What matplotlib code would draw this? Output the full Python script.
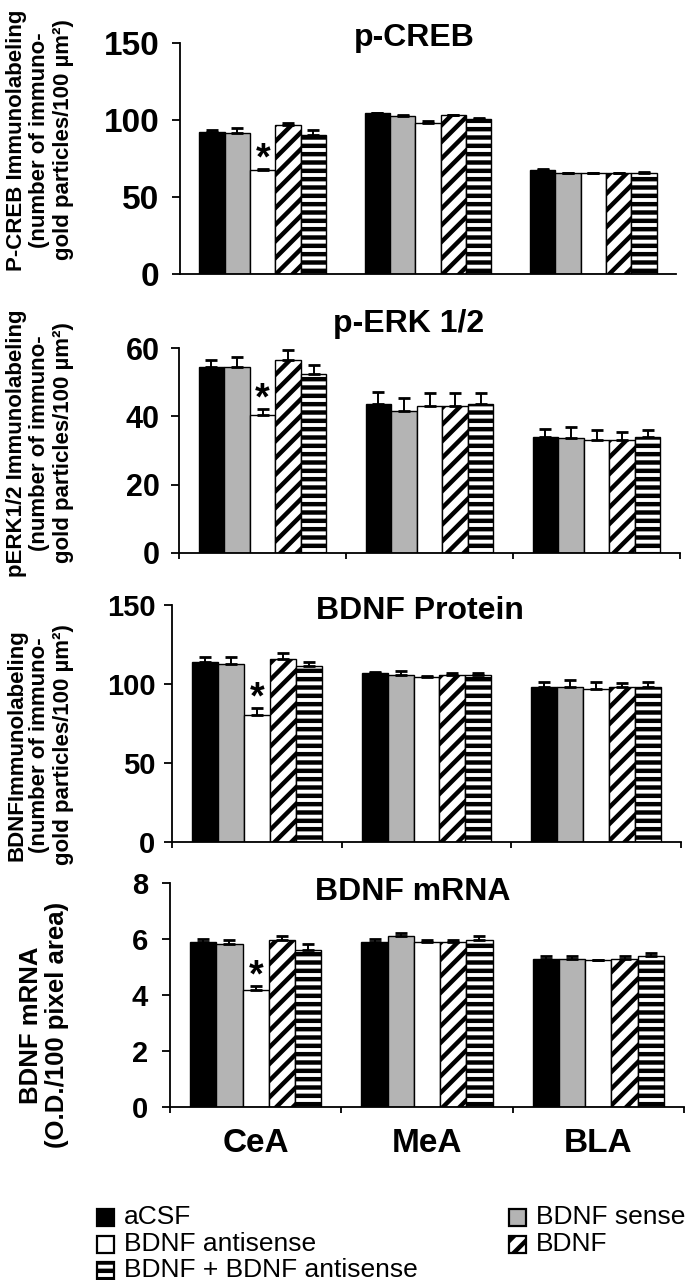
import matplotlib
matplotlib.use("Agg")
import matplotlib.pyplot as plt
from matplotlib.patches import Rectangle
import numpy as np

# ---------------- data ----------------
regions = ["CeA", "MeA", "BLA"]
groups = ["aCSF", "BDNF sense", "BDNF antisense", "BDNF", "BDNF + BDNF antisense"]

# rows = regions, cols = groups
pcreb_mean = [[92.4, 91.8, 67.5, 96.5, 90.3],
              [104.3, 102.6, 98.0, 103.0, 100.4],
              [67.5, 65.8, 65.8, 65.8, 65.4]]
pcreb_err = [[1.0, 3.2, 0.5, 1.3, 3.2],
             [0.5, 0.5, 1.6, 0.3, 0.7],
             [0.7, 0.0, 0.0, 0.0, 0.9]]

perk_mean = [[54.5, 54.5, 40.3, 56.6, 52.3],
             [43.5, 41.6, 43.0, 43.0, 43.5],
             [34.0, 33.8, 33.1, 33.1, 34.0]]
perk_err = [[2.1, 2.9, 1.8, 2.7, 2.7],
            [3.5, 3.9, 3.9, 3.9, 3.4],
            [2.2, 3.0, 2.9, 2.4, 2.0]]

bdnfp_mean = [[114.1, 112.6, 80.3, 115.6, 111.3],
              [106.7, 105.4, 104.6, 105.4, 105.4],
              [98.2, 98.2, 97.0, 97.8, 98.2]]
bdnfp_err = [[2.7, 4.2, 4.2, 4.2, 2.6],
             [0.6, 3.0, 0.6, 1.6, 1.3],
             [3.0, 4.3, 4.2, 3.0, 3.0]]

mrna_mean = [[5.89, 5.83, 4.19, 5.98, 5.62],
             [5.89, 6.10, 5.88, 5.88, 5.98],
             [5.29, 5.29, 5.24, 5.29, 5.38]]
mrna_err = [[0.11, 0.15, 0.12, 0.12, 0.21],
            [0.11, 0.11, 0.10, 0.10, 0.12],
            [0.11, 0.11, 0.00, 0.11, 0.12]]

titles = ["p-CREB", "p-ERK 1/2", "BDNF Protein", "BDNF mRNA"]
ylabels = ["P-CREB Immunolabeling\n(number of immuno-\ngold particles/100 µm²)",
           "pERK1/2 Immunolabeling\n(number of immuno-\ngold particles/100 µm²)",
           "BDNFImmunolabeling\n(number of immuno-\ngold particles/100 µm²)",
           "BDNF mRNA\n(O.D./100 pixel area)"]
yticks = [[0, 50, 100, 150], [0, 20, 40, 60], [0, 50, 100, 150], [0, 2, 4, 6, 8]]
sig_group = 2   # asterisk over BDNF antisense in CeA
sig_region = 0

# ---------------- style ----------------
W, H = 685, 1280
DPI = 100
FONT = ["Liberation Sans", "DejaVu Sans"]
plt.rcParams["font.family"] = FONT
plt.rcParams["hatch.linewidth"] = 3.2
plt.rcParams["hatch.color"] = "black"

colors = ["black", "#b4b4b4", "white", "white", "white"]
hatches = [None, None, None, "//", "--"]

fig = plt.figure(figsize=(W / DPI, H / DPI), dpi=DPI)

# axes frames in pixel coords: (left, right, y0_px, ytop_px)
frames = [(180, 676, 274, 43), (179, 680, 553, 348), (172, 681, 842, 605), (170, 684, 1107, 883)]
tick_fs = [24, 22, 21, 21]
tick_pad = [9, 8, 6, 10]
title_pos = [(414, 38), (409, 324), (420, 611), (413, 892)]
ylabel_pos = [(40, 140), (40, 443), (40, 745), (44, 1025)]
ylabel_fs = [16, 16, 16, 18.5]

all_means = [pcreb_mean, perk_mean, bdnfp_mean, mrna_mean]
all_errs = [pcreb_err, perk_err, bdnfp_err, mrna_err]

bw = 0.153
x = np.arange(len(regions))

for p in range(4):
    l, r, y0, yt = frames[p]
    ax = fig.add_axes([l / W, 1 - y0 / H, (r - l) / W, (y0 - yt) / H])
    means = np.array(all_means[p])
    errs = np.array(all_errs[p])
    for g in range(len(groups)):
        xs = x + (g - 2) * bw
        ax.bar(xs, means[:, g], width=bw, color=colors[g], edgecolor="black",
               linewidth=1.0, hatch=hatches[g], zorder=2)
        ax.errorbar(xs, means[:, g], yerr=[np.zeros(3), errs[:, g]], fmt="none",
                    ecolor="black", elinewidth=1.4, capsize=4.5, capthick=2.0, zorder=3)
    # significance asterisk
    xs_sig = x[sig_region] + (sig_group - 2) * bw
    ytop = means[sig_region, sig_group] + errs[sig_region, sig_group]
    ax.text(xs_sig, ytop, "*", ha="center", va="baseline", fontsize=27,
            fontweight="bold", zorder=4)

    ax.set_xlim(-0.5, 2.5)
    ax.set_ylim(yticks[p][0], yticks[p][-1])
    ax.set_yticks(yticks[p])
    ax.set_yticklabels([str(t) for t in yticks[p]], fontsize=tick_fs[p], fontweight="bold")
    ax.tick_params(axis="y", direction="out", length=6, width=1.3, pad=tick_pad[p])
    ax.set_xticks([-0.5, 0.5, 1.5, 2.5])
    ax.set_xticklabels([])
    if p == 0:
        ax.tick_params(axis="x", length=0)
    else:
        ax.tick_params(axis="x", direction="out", length=4, width=1.3)
    for s in ["top", "right"]:
        ax.spines[s].set_visible(False)
    for s in ["left", "bottom"]:
        ax.spines[s].set_linewidth(1.3)
    if p == 3:
        ax.set_xticks(x, minor=True)
        ax.set_xticklabels(regions, minor=True, fontsize=24, fontweight="bold")
        ax.tick_params(axis="x", which="minor", length=0, pad=15)

    tx, ty = title_pos[p]
    fig.text(tx / W, 1 - ty / H, titles[p], ha="center", va="center",
             fontsize=23, fontweight="bold")
    lx, ly = ylabel_pos[p]
    fig.text(lx / W, 1 - ly / H, ylabels[p], rotation=90, ha="center", va="center",
             multialignment="center", fontsize=ylabel_fs[p], fontweight="bold",
             linespacing=1.15)

# ---------------- legend ----------------
leg_items = [(0, 97, 1217), (2, 97, 1244), (4, 97, 1270), (1, 509, 1217), (3, 509, 1244)]
for g, mx, my in leg_items:
    rect = Rectangle((mx / W, 1 - (my + 8.5) / H), 17 / W, 17 / H, transform=fig.transFigure,
                     facecolor=colors[g], edgecolor="black", linewidth=1.6, hatch=hatches[g])
    fig.add_artist(rect)
    fig.text((mx + 27) / W, 1 - my / H, groups[g], ha="left", va="center", fontsize=19)

fig.savefig("out.png", dpi=DPI)
